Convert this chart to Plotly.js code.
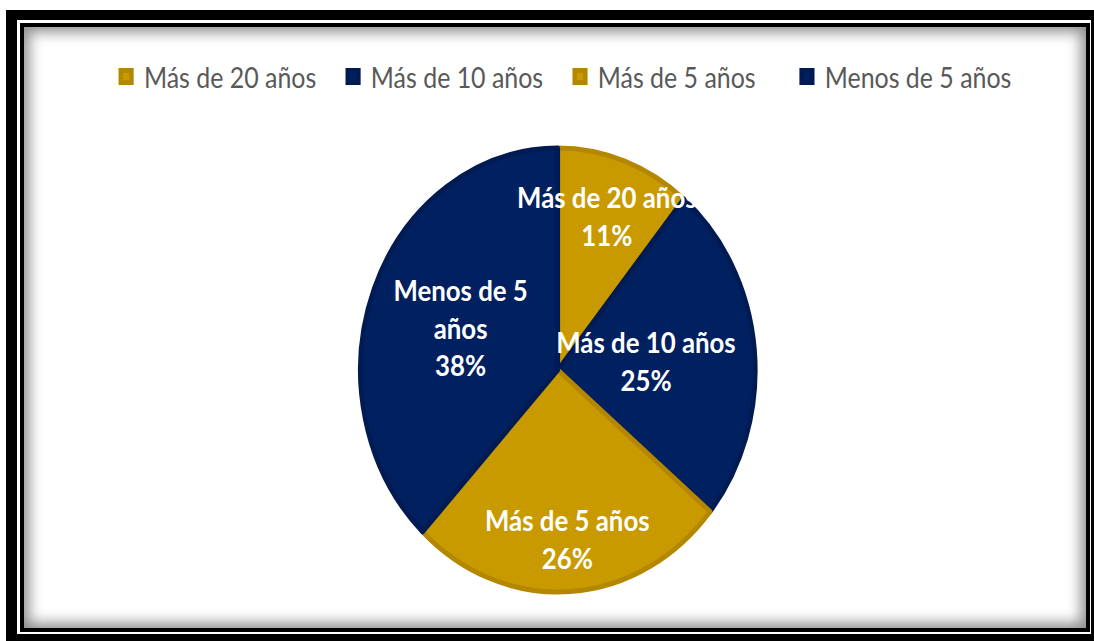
<!DOCTYPE html>
<html>
<head>
<meta charset="utf-8">
<script src="https://cdn.plot.ly/plotly-3.0.1.min.js"></script>
<style>
  html, body { margin: 0; padding: 0; background: #fff; overflow: hidden; }
  #marco { position: absolute; left: 6px; top: 10px; width: 1100px; height: 640px; background: #000; }
  #hueco { position: absolute; left: 17px; top: 20px; width: 1074px; height: 614px; background: #fff; }
  #interior {
    position: absolute; left: 20px; top: 23px; width: 1062px; height: 601px;
    border: 4px solid #000; background: #fff;
    box-shadow: inset 0 0 14px 5px rgba(0, 0, 0, 0.45);
  }
  #grafico {
    position: absolute; left: 0; top: 0; width: 1229px; height: 641px;
    transform: scaleX(0.89); transform-origin: 0 0;
  }
</style>
</head>
<body>
<div id="marco"></div>
<div id="hueco"></div>
<div id="interior"></div>
<div id="grafico"></div>
<script>
// Antigüedad: categorías y porcentajes
const categorias = ['Más de 20 años', 'Más de 10 años', 'Más de 5 años', 'Menos de 5 años'];
const etiquetas = ['Más de 20 años', 'Más de 10 años', 'Más de 5 años', 'Menos de 5<br>años'];
const porcentajes = [11, 25, 26, 38];

const colores = ['#c99a00', '#002060', '#c99a00', '#002060'];
const bordes = ['#b38700', '#001a52', '#b38700', '#001a52'];
// distancia de cada etiqueta al centro (fracción del radio)
const radioEtiqueta = [0.74, 0.45, 0.76, 0.53];

const ancho = 1229, alto = 641;
const dominioX = [0.26, 0.76], dominioY = [0.0764, 0.769];
const radio = (dominioY[1] - dominioY[0]) * alto / 2;
const cx = (dominioX[0] + dominioX[1]) / 2, cy = (dominioY[0] + dominioY[1]) / 2;

// etiquetas dentro de cada sector, a partir del ángulo medio (sentido horario desde arriba)
const total = porcentajes.reduce((a, b) => a + b, 0);
let acumulado = 0;
const anotaciones = porcentajes.map((v, i) => {
    const medio = (acumulado + v / 2) / total * 2 * Math.PI;
    acumulado += v;
    const r = radioEtiqueta[i] * radio;
    return {
        xref: 'paper', yref: 'paper',
        x: cx + r * Math.sin(medio) / ancho,
        y: cy + r * Math.cos(medio) / alto,
        xanchor: 'center', yanchor: 'middle',
        text: etiquetas[i] + '<br>' + Math.round(v / total * 100) + '%',
        showarrow: false,
        font: { family: 'Lato', size: 29, color: '#ffffff', weight: 'bold' }
    };
});

const data = [
    {
        type: 'pie',
        labels: categorias,
        values: porcentajes,
        textinfo: 'none',
        sort: false,
        direction: 'clockwise',
        rotation: 0,
        marker: {
            colors: colores,
            line: { color: bordes, width: 5 }
        },
        domain: { x: dominioX, y: dominioY },
        hoverinfo: 'label+percent'
    }
];

const layout = {
    width: ancho,
    height: alto,
    margin: { l: 0, r: 0, t: 0, b: 0 },
    showlegend: true,
    legend: {
        orientation: 'h',
        x: 0.514, xanchor: 'center',
        y: 0.88, yanchor: 'middle',
        entrywidth: 210,
        font: { family: 'Lato', size: 28, color: '#595959' },
        bgcolor: 'rgba(0,0,0,0)'
    },
    annotations: anotaciones,
    paper_bgcolor: 'rgba(0,0,0,0)',
    plot_bgcolor: 'rgba(0,0,0,0)'
};

Plotly.newPlot('grafico', data, layout, { displayModeBar: false, staticPlot: true });
</script>
</body>
</html>
